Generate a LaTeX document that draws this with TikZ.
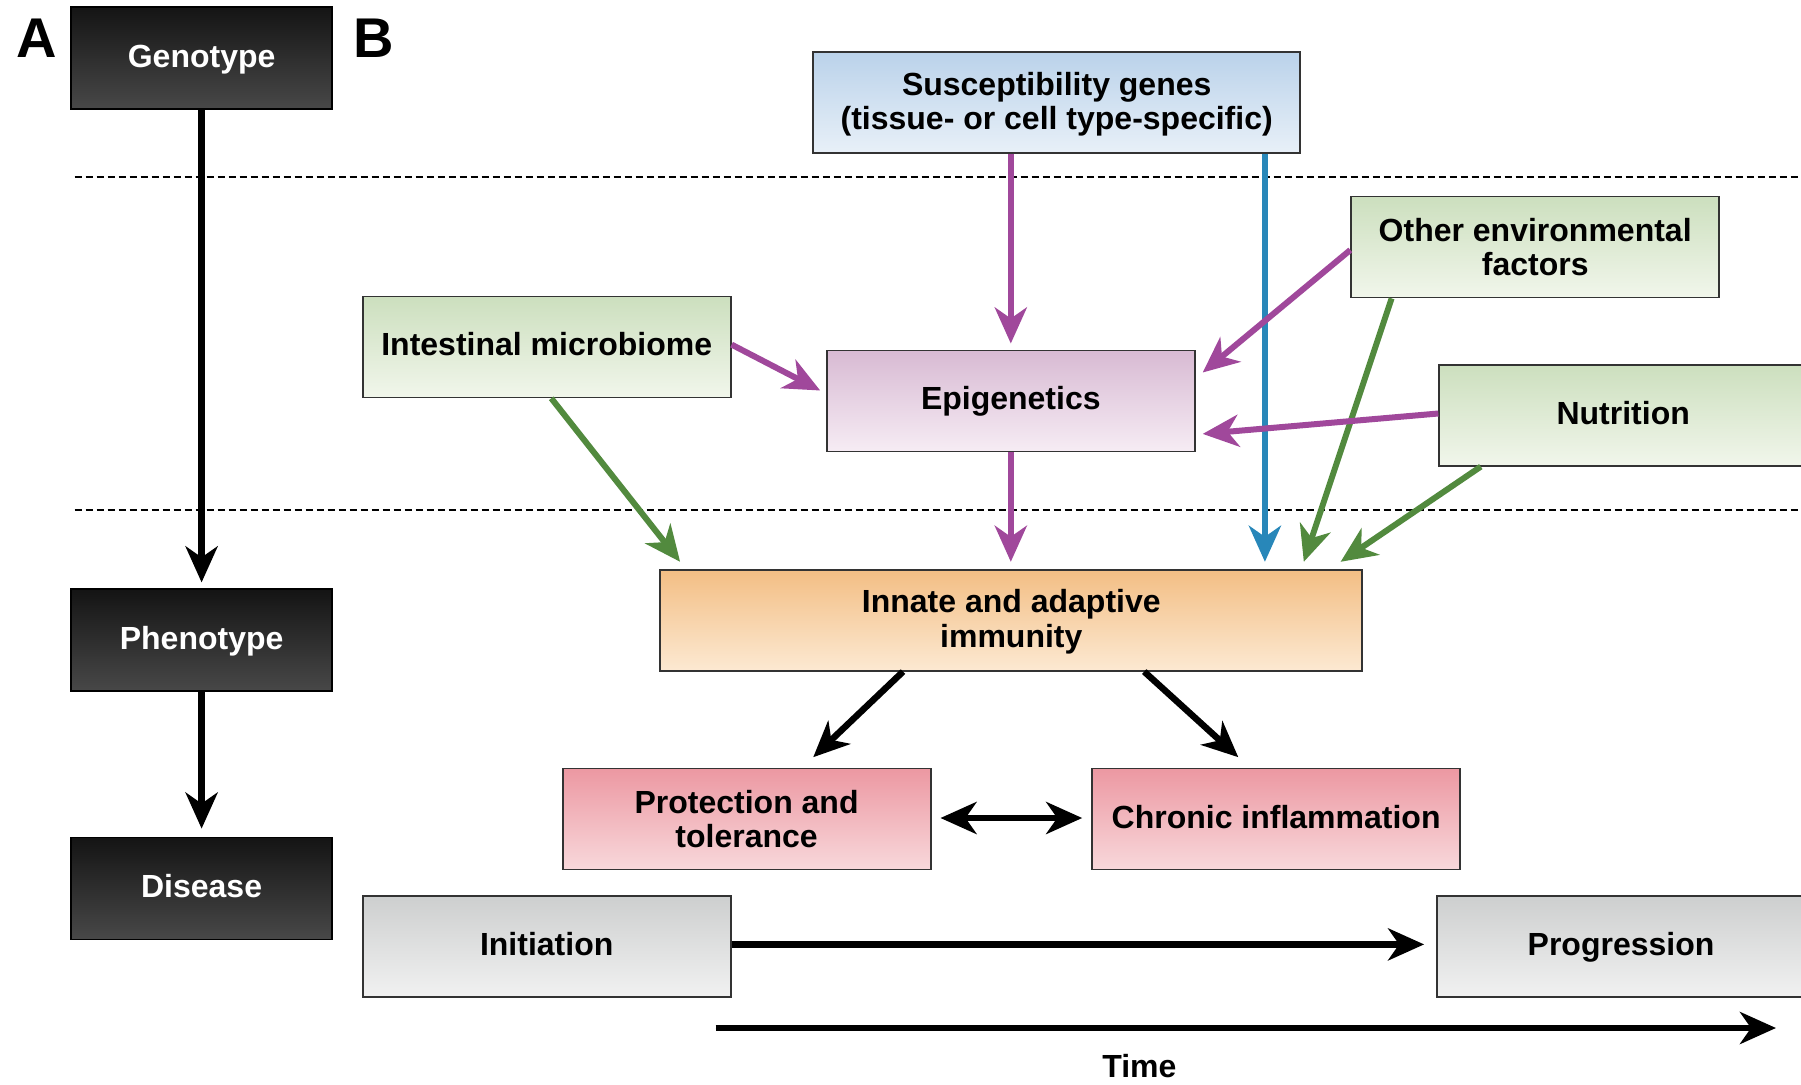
\documentclass[tikz,border=0pt]{standalone}
\usepackage{fontspec}
\setmainfont{Liberation Sans}
\usetikzlibrary{arrows.meta,calc}
\definecolor{cpurple}{RGB}{160,72,155}
\definecolor{cblue}{RGB}{40,135,185}
\definecolor{cgreen}{RGB}{82,138,62}
\definecolor{bkA}{RGB}{20,20,20}
\definecolor{bkB}{RGB}{72,72,72}
\definecolor{blA}{RGB}{186,210,234}
\definecolor{blB}{RGB}{232,240,248}
\definecolor{grA}{RGB}{204,223,190}
\definecolor{grB}{RGB}{241,246,235}
\definecolor{epA}{RGB}{216,186,211}
\definecolor{epB}{RGB}{246,236,244}
\definecolor{orA}{RGB}{243,190,132}
\definecolor{orB}{RGB}{252,233,210}
\definecolor{pkA}{RGB}{236,152,162}
\definecolor{pkB}{RGB}{248,216,219}
\definecolor{gyA}{RGB}{205,207,207}
\definecolor{gyB}{RGB}{241,241,241}
\begin{document}
\begin{tikzpicture}[x=1pt,y=-1pt,
  every node/.style={font=\bfseries\fontsize{32}{34.5}\selectfont, align=center, inner sep=0pt},
  box/.style={draw=black!80, line width=1.8pt, minimum width=368pt, minimum height=101pt},
  oneline/.style={text height=23pt, text depth=5pt},
  blackbox/.style={box, oneline, draw=black, top color=bkA, bottom color=bkB, text=white, minimum width=261pt, minimum height=102pt},
  bluebox/.style={box, top color=blA, bottom color=blB},
  greenbox/.style={box, top color=grA, bottom color=grB},
  epibox/.style={box, top color=epA, bottom color=epB},
  orangebox/.style={box, top color=orA, bottom color=orB},
  pinkbox/.style={box, top color=pkA, bottom color=pkB},
  graybox/.style={box, top color=gyA, bottom color=gyB},
  bigletter/.style={font=\bfseries\fontsize{56}{56}\selectfont},
  arr/.style={line width=6pt, -{Stealth[length=36pt,width=32pt,inset=11pt]}},
  purp/.style={arr, draw=cpurple, fill=cpurple},
  blu/.style={arr, draw=cblue, fill=cblue},
  grn/.style={arr, draw=cgreen, fill=cgreen},
  blk/.style={arr, line width=6.5pt, draw=black, fill=black},
  dbl/.style={line width=6.5pt, {Stealth[length=36pt,width=32pt,inset=11pt]}-{Stealth[length=36pt,width=32pt,inset=11pt]}},
  sep/.style={line width=2pt, dash pattern=on 7pt off 4pt}
]
\useasboundingbox (0,0) rectangle (1801,1084);
\clip (0,0) rectangle (1801,1084);

% panel A
\node[bigletter] (A) at (36.8,37.9) {A};
\node[blackbox] (geno) at (201.6,58) {Genotype};
\node[blackbox] (pheno) at (201.6,640.3) {Phenotype};
\node[blackbox] (dis) at (201.6,888.5) {Disease};

% panel B
\node[bigletter] (B) at (373.3,37.9) {B};

\coordinate (s1a) at (74.6,176.9);
\coordinate (s1b) at (1801,176.9);
\coordinate (s2a) at (74.6,510);
\coordinate (s2b) at (1801,510);
\draw[sep] (s1a) -- (s1b);
\draw[sep] (s2a) -- (s2b);

\node[bluebox, minimum width=487pt] (sus) at (1056.7,102.2) {\rule{0pt}{27pt}Susceptibility genes\\(tissue- or cell type-specific)};
\node[greenbox] (oth) at (1535.2,247) {Other environmental\\factors};
\node[greenbox, oneline] (int) at (546.7,346.9) {Intestinal microbiome};
\node[epibox, oneline] (epi) at (1010.8,400.9) {Epigenetics};
\node[greenbox, oneline] (nut) at (1623.2,415.2) {Nutrition};
\node[orangebox, minimum width=702pt] (inn) at (1011.3,620.2) {\rule{0pt}{26pt}Innate and adaptive\\immunity};
\node[pinkbox] (prot) at (746.6,819) {Protection and\\tolerance};
\node[pinkbox, oneline] (chr) at (1276.1,819) {Chronic inflammation};
\node[graybox, oneline] (init) at (546.7,946.4) {Initiation};
\node[graybox, oneline] (prog) at (1621,946.4) {Progression};

\coordinate (t1) at (715.6,1028);
\coordinate (t2) at (1776,1028);
\node (time) at (1139.4,1066) {Time};

% panel A arrows
\draw[blk] (geno.south) -- ($(pheno.north)+(0,-6)$);
\draw[blk] (pheno.south) -- ($(dis.north)+(0,-8)$);

% B arrows
\draw[purp] (epi.north |- sus.south) -- ($(epi.north)+(0,-6)$);
\coordinate (bl1) at ($(sus.south west)+(452.6,0)$);
\draw[blu] (bl1) -- ($(bl1 |- inn.north)+(0,-7)$);
\draw[purp] ($(oth.west)+(0,3)$) -- ($(epi.north east)+(7,23)$);
\draw[grn] ($(oth.south west)+(41.3,0)$) -- ($(inn.north west)+(644.4,-7)$);
\draw[purp] ($(nut.west)+(0,-1.7)$) -- ($(epi.south east)+(7,-18.4)$);
\draw[grn] ($(nut.south west)+(42.5,0)$) -- ($(inn.north west)+(681.2,-7)$);
\draw[purp] ($(int.east)+(0,-2.3)$) -- ($(epi.west)+(-5.7,-10.4)$);
\draw[grn] ($(int.south)+(4.6,0)$) -- ($(inn.north west)+(20.7,-7)$);
\draw[purp] (epi.south) -- ($(epi.south |- inn.north)+(0,-7)$);
\draw[blk] ($(inn.south west)+(243.6,0)$) -- ($(prot.north)+(66.6,-10.4)$);
\draw[blk] ($(inn.south west)+(484.8,0)$) -- ($(chr.north)+(-37.8,-10.4)$);
\draw[dbl] ($(prot.east)+(9,-1)$) -- ($(chr.west)+(-9,-1)$);
\draw[blk] ($(init.east)+(0,-2)$) -- ($(prog.west)+(-12,-2)$);
\draw[blk] (t1) -- (t2);
\end{tikzpicture}
\end{document}
